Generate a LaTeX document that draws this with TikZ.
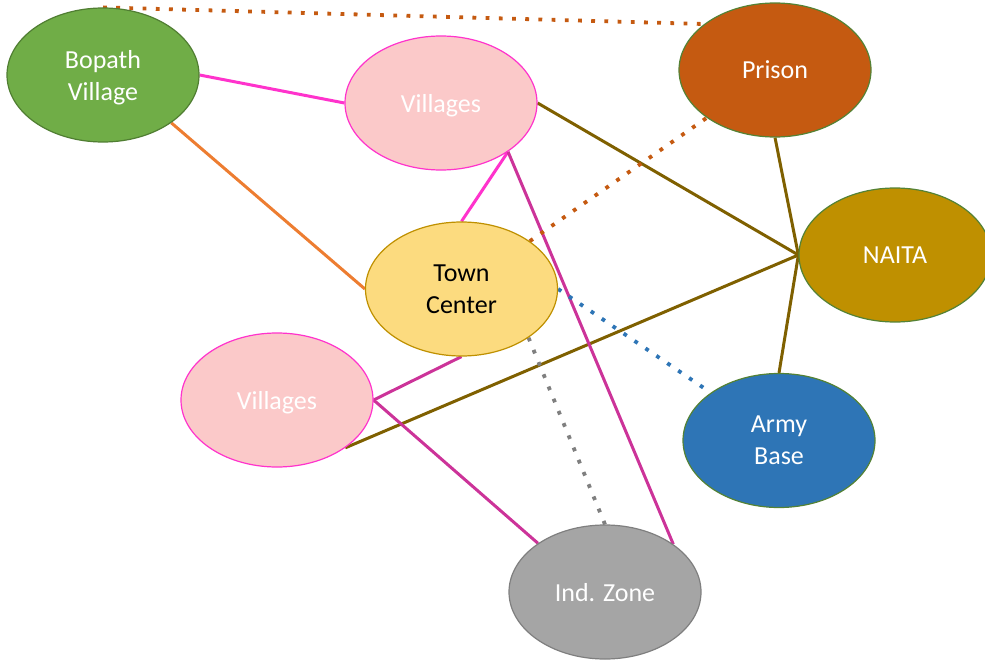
\documentclass[tikz,border=0pt]{standalone}
\usepackage{fontspec}
\setmainfont{Carlito}
\usetikzlibrary{shapes.geometric}
\pgfdeclarelayer{bg}
\pgfsetlayers{bg,main}
\definecolor{cGreen}{HTML}{70AD47}
\definecolor{cGreenD}{HTML}{507E32}
\definecolor{cEdge}{HTML}{548235}
\definecolor{cPink}{HTML}{FBC9C9}
\definecolor{cMag}{HTML}{FF33CC}
\definecolor{cPurp}{HTML}{CC3399}
\definecolor{cRust}{HTML}{C55A11}
\definecolor{cGold}{HTML}{BF9000}
\definecolor{cYel}{HTML}{FCDB7F}
\definecolor{cBlue}{HTML}{2E75B6}
\definecolor{cGray}{HTML}{A5A5A5}
\definecolor{cGrayD}{HTML}{7F7F7F}
\definecolor{cOlive}{HTML}{7F6000}
\definecolor{cOrange}{HTML}{ED7D31}
\tikzset{
  blob/.style={ellipse, minimum width=192pt, minimum height=134pt, inner sep=0pt,
    line width=1.2pt, align=center, text=white, text depth=0pt,
    font=\fontsize{26}{32}\selectfont},
  solidlink/.style={line width=3pt},
  dotlink/.style={line width=3.8pt, dash pattern=on 3.8pt off 9.4pt}
}
\begin{document}
\begin{tikzpicture}[x=1pt,y=-1pt]
\useasboundingbox (0,0) rectangle (985,661);
\node[blob, fill=cGreen, draw=cGreenD] (bop) at (103,75) {Bopath\\Village};
\node[blob, fill=cPink, draw=cMag] (vt) at (441,103) {Villages};
\node[blob, fill=cRust, draw=cEdge] (pri) at (775,70) {Prison};
\node[blob, fill=cGold, draw=cEdge] (nai) at (895,255) {NAITA};
\node[blob, fill=cYel, draw=cGold, text=black] (tc) at (461.5,289) {Town\\Center};
\node[blob, fill=cPink, draw=cMag] (vl) at (277,400) {Villages};
\node[blob, fill=cBlue, draw=cEdge] (army) at (779,440.5) {Army\\Base};
\node[blob, fill=cGray, draw=cGrayD] (iz) at (605,592) {Ind. Zone};
\begin{pgfonlayer}{bg}
\draw[dotlink, cRust] (bop.north) -- (pri.147);
\draw[solidlink, cMag] (bop.east) -- (vt.west);
\draw[solidlink, cOrange] (bop.-35) -- (tc.west);
\draw[solidlink, cOlive] (vt.east) -- (nai.west);
\draw[solidlink, cOlive] (vl.-35) -- (nai.west);
\draw[solidlink, cOlive] (pri.south) -- (nai.west);
\draw[solidlink, cOlive] (army.north) -- (nai.west);
\draw[solidlink, cMag] (vt.-36) -- (tc.north);
\draw[solidlink, cPurp] (vt.-36) -- (iz.35);
\draw[solidlink, cPurp] (vl.east) -- (tc.south);
\draw[solidlink, cPurp] (vl.east) -- (iz.144);
\draw[dotlink, cRust] (tc.35) -- (pri.215);
\draw[dotlink, cBlue] (tc.east) -- (army.145);
\draw[dotlink, cGrayD] (tc.-36) -- (iz.north);
\end{pgfonlayer}
\end{tikzpicture}
\end{document}
